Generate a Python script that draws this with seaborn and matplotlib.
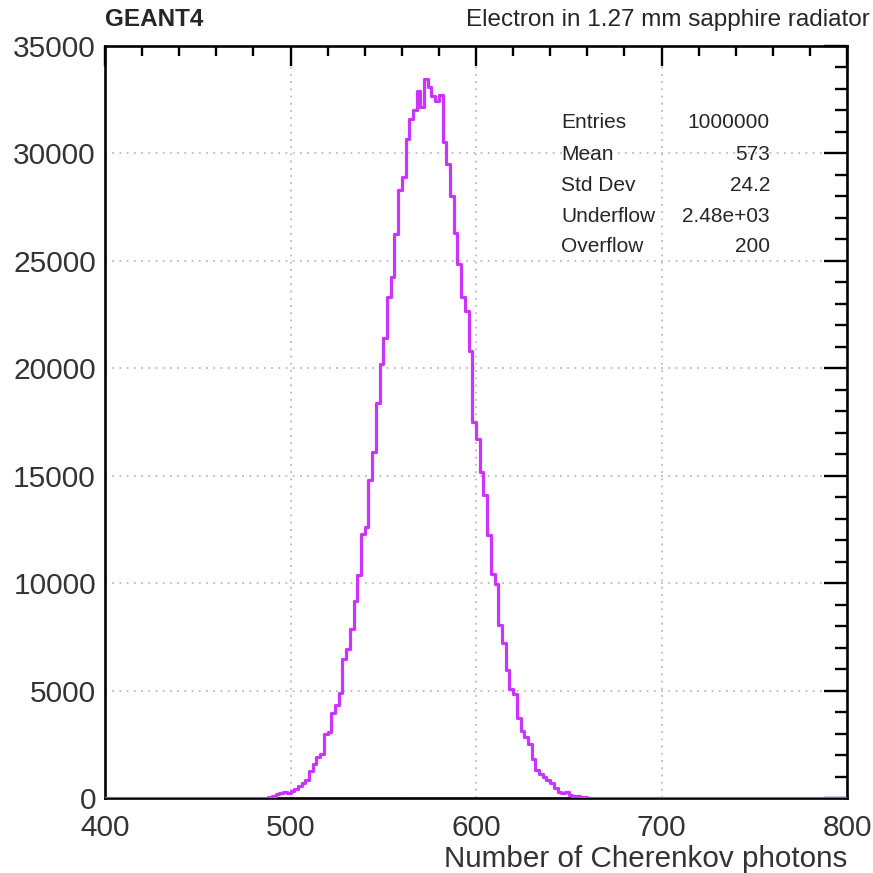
import matplotlib
matplotlib.use("Agg")
import matplotlib.pyplot as plt
from matplotlib.ticker import MultipleLocator
import numpy as np
import pandas as pd
import seaborn as sns

# histogram: 200 bins of width 2 between 400 and 800
bin_lo = 400
bin_hi = 800
bin_width = 2
first_filled_bin = 488  # lower edge of first non-empty bin
counts_filled = [
    40, 80, 190, 240, 260, 220, 330, 400, 560, 720,
    850, 1270, 1580, 1920, 2050, 2980, 3080, 3970, 4330, 4900,
    6450, 6930, 7850, 9150, 10370, 12310, 12620, 14820, 16100, 18400,
    20210, 21420, 23310, 24240, 26260, 28300, 28920, 30680, 31600, 32020,
    32890, 32150, 33470, 33080, 32690, 32420, 32720, 30520, 29510, 28040,
    26290, 24860, 23340, 22650, 20790, 17500, 16690, 15170, 14120, 12230,
    10420, 9980, 8040, 7220, 5950, 5050, 4820, 3710, 3120, 2820,
    2500, 1800, 1300, 1120, 960, 840, 710, 450, 290, 220,
    290, 140, 100, 70, 50, 30, 20, 10,
]

stat_names = ["Entries", "Mean", "Std Dev", "Underflow", "Overflow"]
stat_values = ["1000000", "573", "24.2", "2.48e+03", "200"]

title_left = "GEANT4"
title_right = "Electron in 1.27 mm sapphire radiator"
x_label = "Number of Cherenkov photons"

edges = np.arange(bin_lo, bin_hi + bin_width, bin_width)
centers = edges[:-1] + bin_width / 2
counts = np.zeros(len(centers))
start = (first_filled_bin - bin_lo) // bin_width
counts[start:start + len(counts_filled)] = counts_filled
df = pd.DataFrame({"photons": centers, "n": counts})

sns.set_style("white")
plt.rcParams["font.family"] = ["Liberation Sans", "DejaVu Sans"]

fig = plt.figure(figsize=(8.73, 8.73), dpi=100)
ax = fig.add_axes([105 / 873, 1 - 798 / 873, 742 / 873, 752 / 873])

sns.histplot(data=df, x="photons", weights="n", binwidth=bin_width,
             binrange=(bin_lo, bin_hi), element="step", fill=False,
             color="#cc33ff", linewidth=2.3, ax=ax, zorder=5)

ax.set_xlim(bin_lo, bin_hi)
ax.set_ylim(0, 35000)
ax.set_xlabel("")
ax.set_ylabel("")

ax.xaxis.set_major_locator(MultipleLocator(100))
ax.xaxis.set_minor_locator(MultipleLocator(20))
ax.yaxis.set_major_locator(MultipleLocator(5000))
ax.yaxis.set_minor_locator(MultipleLocator(1000))

ax.tick_params(axis="both", which="both", direction="in", top=True, right=True,
               color="black", width=1.7)
ax.tick_params(axis="x", which="major", length=14.5, pad=11.5, labelsize=21.5)
ax.tick_params(axis="x", which="minor", length=7.2)
ax.tick_params(axis="y", which="major", length=16.5, pad=6.5, labelsize=21.5)
ax.tick_params(axis="y", which="minor", length=8.6)
for lab in ax.get_xticklabels() + ax.get_yticklabels():
    lab.set_color("#333333")

for sp in ax.spines.values():
    sp.set_visible(True)
    sp.set_color("black")
    sp.set_linewidth(1.9)

ax.grid(True, which="major", linestyle=(0, (1, 3)), color="#bbbbbb", linewidth=1.3)
ax.set_axisbelow(True)

# statistics box
row_y = [0.898, 0.856, 0.8145, 0.773, 0.733]
for name, val, yy in zip(stat_names, stat_values, row_y):
    ax.text(0.6146, yy, name, transform=ax.transAxes, ha="left", va="center",
            fontsize=15, zorder=6)
    ax.text(0.8962, yy, val, transform=ax.transAxes, ha="right", va="center",
            fontsize=15, zorder=6)

fig.text(105 / 873, 1 - 20 / 873, title_left, ha="left", va="center",
         fontsize=17.5, fontweight="bold")
fig.text(870 / 873, 1 - 20 / 873, title_right, ha="right", va="center",
         fontsize=17.5)
fig.text(847 / 873, 1 - 859 / 873, x_label, ha="right", va="center",
         fontsize=21.3, color="#333333")

fig.savefig("out.png", dpi=100)
